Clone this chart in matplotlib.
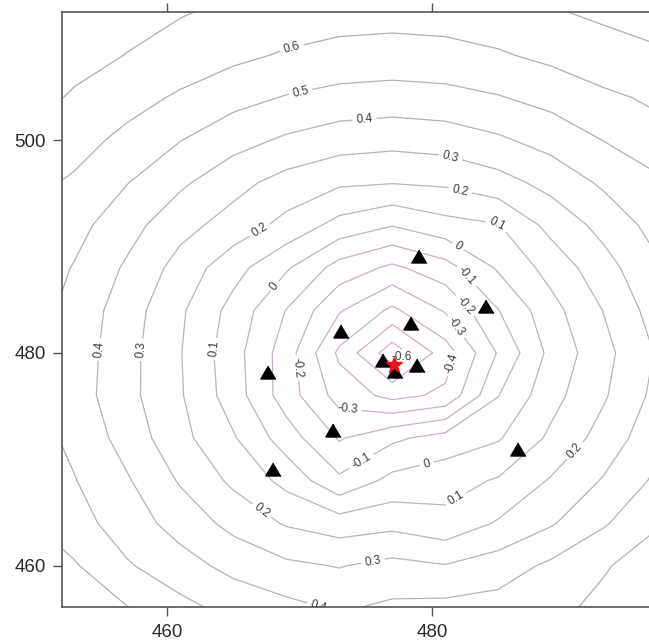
import numpy as np
import matplotlib
matplotlib.use('Agg')
import matplotlib.pyplot as plt
from matplotlib.colors import LinearSegmentedColormap, Normalize

# Misfit surface sampled on a 4 km grid (rows run south to north).
grid_x = [449, 453, 457, 461, 465, 469, 473, 477, 481, 485, 489, 493, 497]
grid_y = [456, 460, 464, 468, 472, 476, 480, 484, 488, 492, 496, 500, 504, 508, 512]
misfit = [
    [0.71, 0.66, 0.605, 0.53, 0.47, 0.43, 0.39, 0.42, 0.43, 0.44, 0.47, 0.53, 0.59],
    [0.66, 0.61, 0.51, 0.44, 0.37, 0.32, 0.295, 0.33, 0.305, 0.35, 0.42, 0.49, 0.56],
    [0.62, 0.54, 0.45, 0.36, 0.27, 0.19, 0.15, 0.17, 0.13, 0.21, 0.29, 0.39, 0.49],
    [0.59, 0.505, 0.41, 0.29, 0.18, 0.07, -0.08, 0.03, 0.06, 0.11, 0.21, 0.31, 0.42],
    [0.56, 0.475, 0.36, 0.23, 0.11, -0.05, -0.21, -0.12, -0.06, -0.01, 0.12, 0.24, 0.37],
    [0.54, 0.45, 0.33, 0.21, 0.05, -0.15, -0.34, -0.43, -0.38, -0.103, 0.066, 0.19, 0.33],
    [0.55, 0.457, 0.333, 0.205, 0.04, -0.15, -0.42, -0.66, -0.45, -0.19, 0.03, 0.17, 0.31],
    [0.56, 0.467, 0.347, 0.216, 0.066, -0.103, -0.29, -0.42, -0.29, -0.103, 0.066, 0.205, 0.347],
    [0.575, 0.494, 0.385, 0.263, 0.137, 0.013, -0.14, -0.22, -0.14, 0.013, 0.137, 0.263, 0.385],
    [0.595, 0.533, 0.438, 0.333, 0.26, 0.17, 0.066, 0.005, 0.066, 0.095, 0.232, 0.333, 0.438],
    [0.64, 0.584, 0.503, 0.418, 0.333, 0.263, 0.216, 0.205, 0.216, 0.263, 0.333, 0.418, 0.48],
    [0.69, 0.643, 0.570, 0.503, 0.438, 0.385, 0.347, 0.333, 0.347, 0.385, 0.438, 0.503, 0.570],
    [0.74, 0.69, 0.643, 0.584, 0.533, 0.494, 0.467, 0.457, 0.467, 0.494, 0.533, 0.584, 0.615],
    [0.76, 0.73, 0.698, 0.669, 0.624, 0.590, 0.570, 0.563, 0.570, 0.590, 0.624, 0.655, 0.68],
    [0.78, 0.76, 0.73, 0.705, 0.685, 0.66, 0.64, 0.635, 0.64, 0.66, 0.69, 0.72, 0.76],
]
levels = [-0.6, -0.5, -0.4, -0.3, -0.2, -0.1, 0.0, 0.1, 0.2, 0.3, 0.4, 0.5, 0.6, 0.7, 0.8, 0.9]

# Stations and the located event.
station_x = [479.0, 484.1, 478.4, 473.1, 476.3, 478.9, 477.2, 467.6, 472.5, 468.0, 486.5]
station_y = [489.1, 484.4, 482.8, 482.1, 479.3, 478.9, 478.3, 478.2, 472.8, 469.1, 471.0]
event_x = [477.1]
event_y = [478.9]

# Where each contour gets its label: (level, x, y).
label_spots = [
    (0.6, 469.4, 508.8), (0.5, 470.0, 504.9), (0.4, 474.9, 502.0),
    (0.3, 481.5, 498.9), (0.2, 482.1, 495.0), (0.1, 484.9, 491.9),
    (0.0, 482.3, 490.6), (-0.1, 483.1, 487.7), (-0.2, 482.3, 484.2),
    (-0.3, 482.1, 482.7), (-0.4, 482.1, 478.8), (0.4, 455.1, 480.3),
    (0.3, 458.1, 480.3), (0.1, 464.0, 480.3), (-0.2, 470.0, 478.6),
    (0.2, 467.2, 491.2), (0.0, 468.3, 486.1), (-0.3, 473.7, 475.7),
    (-0.1, 474.8, 469.6), (0.0, 479.5, 470.0), (0.1, 482.0, 466.0),
    (0.2, 491.0, 470.6), (0.2, 467.0, 464.9), (0.3, 475.5, 460.7),
    (0.4, 471.5, 456.4), (-0.6, 478.1, 479.0),
]

plt.rcParams['font.family'] = ['Liberation Sans', 'DejaVu Sans']

fig = plt.figure(figsize=(6.49, 6.41), dpi=100)
ax = fig.add_axes([0.096, 0.0526, 0.9086, 0.9282])

# lines fade from grey (high misfit) to a pale lilac (low misfit)
line_cmap = LinearSegmentedColormap.from_list('misfit_lines', ['#d4acd4', '#c0b2c0', '#ababab'])
norm = Normalize(-0.6, 0.9)
z = np.array(misfit)

# one contour set per level so every label sits on its own line
for lev in levels:
    cs = ax.contour(grid_x, grid_y, z, levels=[lev], colors=[line_cmap(norm(lev))],
                    linewidths=0.9, linestyles='solid')
    spots = [(lx, ly) for (l, lx, ly) in label_spots if l == lev]
    if spots and len(cs.allsegs[0]) > 0:
        texts = ax.clabel(cs, manual=spots, fmt=lambda v: f'{v:g}',
                          fontsize=8.5, colors='#3c3c3c', inline=True,
                          inline_spacing=3)
        # the tiny innermost loop reads better with a level label
        if lev == levels[0]:
            for t in texts:
                t.set_rotation(0)

tri = [(0, 0.85), (-1, -0.85), (1, -0.85)]
ax.plot(station_x, station_y, linestyle='none', marker=tri, ms=11,
        color='black', zorder=5)
ax.plot(event_x, event_y, linestyle='none', marker='*', ms=12,
        color='#e8141b', zorder=6)

ax.set_xlim(452.1, 496.6)
ax.set_ylim(456.1, 512.0)
ax.set_xticks([460, 480])
ax.set_yticks([460, 480, 500])
ax.tick_params(direction='out', length=6.5, width=1, color='#555555',
               labelsize=13.5, labelcolor='#2b2b2b', pad=5.5,
               top=True, right=True, labeltop=False, labelright=False)
for sp in ax.spines.values():
    sp.set_color('#555555')
    sp.set_linewidth(1.2)

fig.savefig('out.png', dpi=100, facecolor='white')
